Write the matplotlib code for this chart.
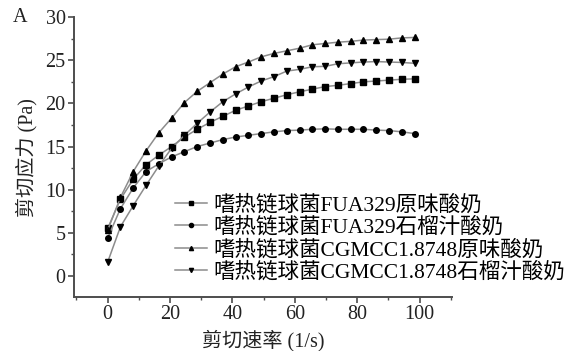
import matplotlib
matplotlib.use("Agg")
import matplotlib.pyplot as plt
from matplotlib.ticker import MultipleLocator

plt.rcParams["font.family"] = ["Liberation Serif", "Noto Sans CJK SC"]

TEXT_COLOR = "#222222"
SPINE_COLOR = "#4d4d4d"
LINE_COLOR = "#8c8c8c"

shear_rate = [0, 4.1, 8.2, 12.3, 16.4, 20.5, 24.6, 28.7, 32.8, 36.9, 41.0, 45.1,
              49.2, 53.3, 57.4, 61.5, 65.6, 69.7, 73.8, 77.9, 82.0, 86.1, 90.2,
              94.3, 98.4]

fua_plain = [5.5, 8.9, 11.2, 12.9, 14.0, 15.0, 16.1, 17.0, 17.8, 18.5, 19.2, 19.7,
             20.2, 20.6, 21.0, 21.35, 21.65, 21.95, 22.1, 22.3, 22.5, 22.6, 22.7,
             22.8, 22.85]
fua_pomegranate = [4.4, 7.8, 10.2, 12.1, 13.0, 13.8, 14.4, 15.0, 15.4, 15.8, 16.1,
                   16.3, 16.5, 16.7, 16.85, 16.9, 17.0, 17.05, 17.0, 17.0, 17.0,
                   16.9, 16.85, 16.7, 16.5]
cgmcc_plain = [5.3, 9.1, 12.1, 14.5, 16.6, 18.3, 20.1, 21.4, 22.4, 23.4, 24.25,
               24.8, 25.4, 25.8, 26.1, 26.4, 26.8, 26.95, 27.1, 27.2, 27.35, 27.4,
               27.45, 27.6, 27.65]
cgmcc_pomegranate = [1.6, 5.7, 8.15, 10.5, 12.75, 14.8, 16.3, 17.7, 19.0, 20.2,
                     21.1, 21.9, 22.6, 23.1, 23.75, 23.95, 24.25, 24.3, 24.6, 24.7,
                     24.8, 24.85, 24.8, 24.75, 24.65]

labels = [
    "嗜热链球菌FUA329原味酸奶",
    "嗜热链球菌FUA329石榴汁酸奶",
    "嗜热链球菌CGMCC1.8748原味酸奶",
    "嗜热链球菌CGMCC1.8748石榴汁酸奶",
]
series = [fua_plain, fua_pomegranate, cgmcc_plain, cgmcc_pomegranate]
markers = ["s", "o", "^", "v"]

fig = plt.figure(figsize=(5.75, 3.51), dpi=100)
ax = fig.add_axes([0.1287, 0.154, 0.657, 0.797])

for values, marker, label in zip(series, markers, labels):
    ax.plot(
        shear_rate,
        values,
        color=LINE_COLOR,
        linewidth=1.1,
        marker=marker,
        markersize=4.0,
        markerfacecolor="black",
        markeredgecolor="black",
        label=label,
    )

ax.set_xlim(-10.8, 110.3)
ax.set_ylim(-2.45, 30)
ax.set_xticks([0, 20, 40, 60, 80, 100])
ax.set_yticks([0, 5, 10, 15, 20, 25, 30])
ax.yaxis.set_minor_locator(MultipleLocator(2.5))
ax.xaxis.set_minor_locator(MultipleLocator(10))

for spine in ["top", "right"]:
    ax.spines[spine].set_visible(False)
for spine in ["left", "bottom"]:
    ax.spines[spine].set_color(SPINE_COLOR)
    ax.spines[spine].set_linewidth(1.4)

ax.tick_params(which="major", direction="out", length=4, width=1.2,
               colors=SPINE_COLOR, labelcolor=TEXT_COLOR, labelsize=14.5)
ax.tick_params(which="minor", direction="out", length=2.5, width=1.0,
               colors=SPINE_COLOR)
ax.tick_params(axis="x", pad=2)
ax.tick_params(axis="y", pad=2)

ax.set_xlabel("剪切速率 (1/s)", fontsize=14.5, color=TEXT_COLOR, labelpad=4)
ax.set_ylabel("剪切应力 (Pa)", fontsize=14.5, color=TEXT_COLOR, labelpad=6)

fig.text(0.035, 0.951, "A", fontsize=14.5, color=TEXT_COLOR, va="center", ha="center")

ax.legend(
    loc="upper left",
    bbox_to_anchor=(0.305, 0.445),
    bbox_transform=fig.transFigure,
    frameon=False,
    fontsize=15.5,
    markerscale=0.75,
    handlelength=1.45,
    handletextpad=0.33,
    labelspacing=0.1,
    borderpad=0,
    borderaxespad=0,
)

fig.savefig("out.png", dpi=100)
